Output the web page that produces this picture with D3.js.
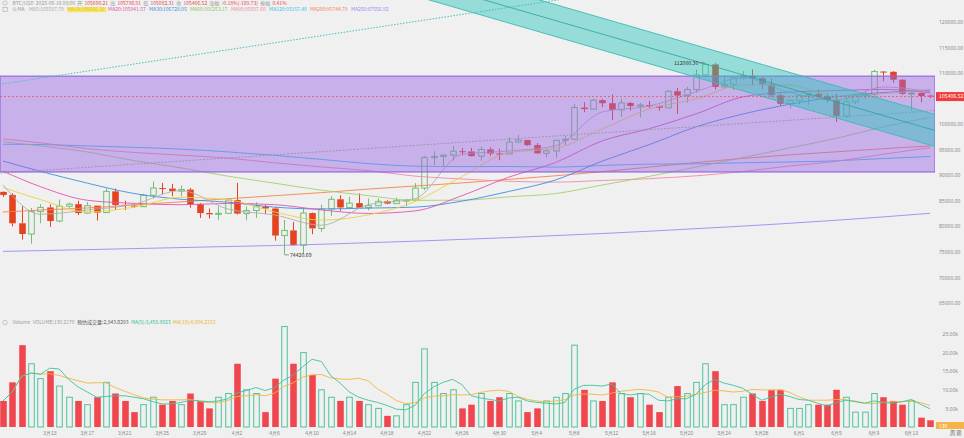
<!DOCTYPE html>
<html><head><meta charset="utf-8">
<script src="https://cdn.jsdelivr.net/npm/d3@7"></script>
<style>
html,body{margin:0;padding:0;background:#f0f0f0;}
svg{display:block;font-family:"Noto Sans CJK SC","Noto Sans",sans-serif;}
</style></head><body>
<svg id="chart" width="964" height="438"></svg>
<script>
// ---------------- DATA ----------------
const dates = ["2025-03-08","2025-03-09","2025-03-10","2025-03-11","2025-03-12","2025-03-13","2025-03-14","2025-03-15","2025-03-16","2025-03-17",
"2025-03-18","2025-03-19","2025-03-20","2025-03-21","2025-03-22","2025-03-23","2025-03-24","2025-03-25","2025-03-26","2025-03-27",
"2025-03-28","2025-03-29","2025-03-30","2025-03-31","2025-04-01","2025-04-02","2025-04-03","2025-04-04","2025-04-05","2025-04-06",
"2025-04-07","2025-04-08","2025-04-09","2025-04-10","2025-04-11","2025-04-12","2025-04-13","2025-04-14","2025-04-15","2025-04-16",
"2025-04-17","2025-04-18","2025-04-19","2025-04-20","2025-04-21","2025-04-22","2025-04-23","2025-04-24","2025-04-25","2025-04-26",
"2025-04-27","2025-04-28","2025-04-29","2025-04-30","2025-05-01","2025-05-02","2025-05-03","2025-05-04","2025-05-05","2025-05-06",
"2025-05-07","2025-05-08","2025-05-09","2025-05-10","2025-05-11","2025-05-12","2025-05-13","2025-05-14","2025-05-15","2025-05-16",
"2025-05-17","2025-05-18","2025-05-19","2025-05-20","2025-05-21","2025-05-22","2025-05-23","2025-05-24","2025-05-25","2025-05-26",
"2025-05-27","2025-05-28","2025-05-29","2025-05-30","2025-05-31","2025-06-01","2025-06-02","2025-06-03","2025-06-04","2025-06-05",
"2025-06-06","2025-06-07","2025-06-08","2025-06-09","2025-06-10","2025-06-11","2025-06-12","2025-06-13","2025-06-14","2025-06-15"];

const opens = [86750,86150,80600,78500,82900,83700,81050,83950,84350,82600,
84050,82700,86850,84200,84050,83850,86100,87500,87400,86900,
87200,84350,82600,82350,82550,85150,82500,83100,83850,83500,
78200,79200,76300,82600,79600,83400,85300,83700,84550,83650,
84050,84900,84450,85100,85150,87500,93450,93700,93950,94700,
94650,93750,95050,94250,94200,96500,96900,95900,94300,94750,
96850,97050,103250,102950,104700,104100,102800,104150,103550,103750,
103500,103200,106450,105600,106800,109650,111700,107300,107800,109050,
109450,109000,107800,105650,104000,104650,105650,105900,105450,104750,
101600,104400,105650,105800,110300,110250,108700,105950,106100,105600.21];

const highs = [86850,86500,83950,83600,84350,84300,85250,84650,85000,84750,
84050,87450,87400,85000,84550,86350,88750,88500,88300,88000,
87500,84550,83500,83900,85500,88500,83900,84700,84200,83800,
81250,80850,83550,82700,84250,85900,86100,85800,86450,85450,
85450,85100,85600,85300,88450,93800,94700,94000,95750,95300,
95350,95600,95450,95200,97400,97900,96950,96300,95200,96900,
97700,103950,104300,104950,104950,105800,104950,104350,104150,104550,
103700,106650,107100,107300,110700,112000.30,111950,109500,109300,110400,
110700,109300,108900,106300,104850,105900,105950,106800,106000,105900,
105400,105950,106450,110600,110400,110400,108800,106200,106250,105796.91];

const lows = [85750,80000,77400,76600,80600,79900,80800,83650,82200,82450,
81150,82650,83200,83200,83650,83800,85500,86300,85900,85900,
83650,81650,81550,81300,82450,82300,81200,81650,82400,77200,
74420.69,76200,74600,78450,78950,82050,83050,83650,83600,83150,
83950,84300,84400,83950,85100,87100,91950,91700,92850,93900,
93650,92850,93800,92950,94150,96300,95750,94150,93500,93400,
95800,96900,102350,102850,103350,100800,101450,102650,101400,103150,
102650,103100,102000,104200,106150,109300,106800,106900,106650,108700,
107550,106850,105350,103650,103100,103900,103700,105150,104200,100400,
101100,103950,104950,105350,108400,108100,105700,102700,104300,105082.31];

const closes = [86150,80600,78500,82900,83700,81050,83950,84350,82600,84050,
82700,86850,84200,84050,83850,86100,87500,87400,86900,87200,
84350,82600,82350,82550,85150,82500,83100,83850,83500,78200,
79200,76300,82600,79600,83400,85300,83700,84550,83650,84050,
84900,84450,85100,85150,87500,93450,93700,93950,94700,94650,
93750,95050,94250,94200,96500,96900,95900,94300,94750,96850,
97050,103250,102950,104700,104100,102800,104150,103550,103750,103500,
103200,106450,105600,106800,109650,111700,107300,107800,109050,109450,
109000,107800,105650,104000,104650,105650,105900,105450,104750,101600,
104400,105650,105800,110300,110250,108700,105950,106100,105500,105406.52];

const volumes = [7000,12000,22000,17000,13000,15000,11000,8000,7000,6000,
8000,12000,9000,7000,4000,6000,8000,6000,7000,6000,
9000,7000,5000,8000,9000,17000,10000,9000,4000,13000,
27000,17000,20000,14000,10000,8000,7000,8000,7000,6000,
5000,3000,3000,6000,12000,21000,12000,9000,10000,5000,
6000,9000,7000,8000,9000,7000,4000,5000,7000,8000,
9000,22000,10000,7000,7000,12000,9000,8000,9000,6000,
4000,8000,11000,9000,12000,17000,15000,6000,6000,8000,
9000,7000,10000,10000,5000,5000,6000,6000,6000,10000,
8000,4000,4000,9000,8000,7000,6000,7000,2500,1800];

// moving-average readings, sampled at these candle indices
const maIdx = [0,4,9,14,19,24,29,34,39,44,49,54,59,64,69,74,79,84,89,94,99];
const ma5   = [88140,82370,83200,84330,87020,83400,82230,80220,84250,85420,94090,94750,95740,102410,103550,106340,109060,106220,104670,107280,106330];
const ma10  = [87600,85250,82790,83770,85680,85210,82820,81230,82240,84840,89760,94420,95250,99080,102980,104950,107700,107640,105450,105980,106810];
const ma20  = [90790,87770,85110,84510,84230,84490,84250,83220,82530,83030,86000,89630,92500,96750,99110,102010,105340,106290,106570,106810,106130];
const ma30  = [92790,90770,88460,86430,85300,84740,83760,83400,83580,83760,84940,86830,89080,92780,95990,99480,101980,103890,105380,106190,106650];
const ma60  = [96600,95750,94580,92860,91450,89830,88450,87080,86020,85090,85120,85780,86420,88090,89780,91620,93460,95360,97230,99480,101320];
const ma90  = [97120,96350,95200,94470,93940,93350,92440,91630,90910,89830,89280,88830,88660,88980,89340,89890,90740,91820,92740,94120,95410];
const ma120 = [96080,96020,95740,95470,95120,94580,93900,93110,92290,91790,91690,91720,91600,91920,92180,92240,92450,92600,92840,93280,93670];
const ma200 = [82800,83200,83600,84200,84800,85400,86000,86600,87300,87900,88500,89200,89900,90700,91600,92500,93300,94000,94600,95200,95740];
const ma250 = [75100,75250,75450,75650,75850,76050,76250,76500,76800,77100,77450,77800,78200,78600,79050,79550,80050,80600,81200,81850,82560];

const priceTicks = [65000,70000,75000,80000,85000,90000,95000,100000,105000,110000,115000,120000];
const volTicks = [5000,10000,15000,20000,25000];
const dateTickIdx = [5,9,13,17,21,25,29,33,37,41,45,49,53,57,61,65,69,73,77,81,85,89,93,97];

const lastPrice = 105406.52;
const highMark = {i:75, p:112000.30};
const lowMark = {i:30, p:74420.69};
// drawings (index, price)
const boxTop = 109400, boxBottom = 90650;
const chanUpper = [[40,133500],[99.52,101890]];
const chanWidth = 6260;
const tealDotted = [[0,107900],[59,124250]];
const greenDotted = [[0,90450],[99,102600]];

const headerRow1 = [["BTC/USD","#9a9a9a"],["2025-06-16 08:00","#9a9a9a"],["开","#9a9a9a"],["105600.21","#e8484a"],["高","#9a9a9a"],["105796.91","#e8484a"],["低","#9a9a9a"],["105082.31","#e8484a"],["收","#9a9a9a"],["105406.52","#e8484a"],["涨幅","#9a9a9a"],["-0.18%(-189.73)","#e8484a"],["振幅","#9a9a9a"],["0.41%","#e8484a"]];
const maLegend = [["MA5:105597.79","#aaaaaa"],["MA10:105656.31","#e3c400"],["MA20:105941.57","#e055b0"],["MA30:106728.05","#3d8fe0"],["MA60:101253.17","#8fc45a"],["MA90:95507.60","#f08aa8"],["MA120:93157.40","#38c0e8"],["MA200:95744.79","#f4844c"],["MA250:87556.92","#9a8cf0"]];
const volLegend = [["Volume","#9a9a9a"],["VOLUME:130.2170","#9a9a9a"],["预估成交量:2,943.0293","#555555"],["MA(5):3,458.0823","#2fc39a"],["MA(10):4,004.2153","#f0b02a"]];

// ---------------- CHART ----------------
const svg = d3.select('#chart');
const W = 964, PR = 935;
const RED = "#e5421f", GREEN = "#72bf74", VRED = "#f0474f", VGREEN = "#4cc59b";
const defs = svg.append('defs');
defs.append('clipPath').attr('id','clipMain').append('rect').attr('x',0).attr('y',0).attr('width',PR).attr('height',314);
defs.append('clipPath').attr('id','clipVol').append('rect').attr('x',0).attr('y',318).attr('width',PR).attr('height',110);

const n = dates.length;
const x = d3.scaleBand().domain(dates).range([-1.68, 934.8]).paddingInner(0.3).paddingOuter(0.15);
const bw = x.bandwidth();
const xc = i => x(dates[i]) + bw/2;
const xi = d3.scaleLinear().domain([0, n-1]).range([xc(0), xc(n-1)]);
const y = d3.scaleLinear().domain([65000,120000]).range([303,22]);
const yv = d3.scaleLinear().domain([0,25000]).range([427,334]);

const gMain = svg.append('g').attr('clip-path','url(#clipMain)');

// candles
const gC = gMain.append('g');
dates.forEach((d,i)=>{
  const o=opens[i], c=closes[i], h=highs[i], l=lows[i];
  const up = c >= o;
  const col = up ? GREEN : RED;
  const cx = Math.round(xc(i)) + 0.5;
  const top = y(Math.max(o,c)), bot = y(Math.min(o,c));
  gC.append('line').attr('x1',cx).attr('x2',cx).attr('y1',y(h)).attr('y2',top).attr('stroke',col).attr('stroke-width',1);
  gC.append('line').attr('x1',cx).attr('x2',cx).attr('y1',bot).attr('y2',y(l)).attr('stroke',col).attr('stroke-width',1);
  const hgt = Math.max(1, bot-top);
  if (up) {
    gC.append('rect').attr('x',cx-bw/2+0.5).attr('y',top).attr('width',bw-1).attr('height',hgt)
      .attr('fill','none').attr('stroke',col).attr('stroke-width',1);
  } else {
    gC.append('rect').attr('x',cx-bw/2).attr('y',top).attr('width',bw).attr('height',hgt).attr('fill',col);
  }
});

// moving averages
const maSets = [[ma250,"#9a8cf0"],[ma200,"#f4844c"],[ma120,"#38c0e8"],[ma90,"#f08aa8"],[ma60,"#a5cf6e"],[ma30,"#3d8fe0"],[ma20,"#e055b0"],[ma10,"#ecd33a"],[ma5,"#b0b0b0"]];
const maLine = d3.line().x(d=>xi(d[0])).y(d=>y(d[1])).curve(d3.curveMonotoneX);
maSets.forEach(([arr,col])=>{
  gMain.append('path').attr('d', maLine(maIdx.map((k,j)=>[k,arr[j]])))
    .attr('fill','none').attr('stroke',col).attr('stroke-width',0.9);
});

// green-grey dotted trend line
const ext = (pts, i0, i1) => { const [a,b]=pts; const s=(b[1]-a[1])/(b[0]-a[0]); return [[i0, a[1]+s*(i0-a[0])],[i1, a[1]+s*(i1-a[0])]]; };
const segLine = d3.line().x(d=>xi(d[0])).y(d=>y(d[1]));
gMain.append('path').attr('d', segLine(ext(greenDotted,-1,99.6))).attr('stroke','#a3bf86').attr('stroke-width',1).attr('stroke-dasharray','2,1.5').attr('fill','none');

// purple box
gMain.append('rect').attr('x',0).attr('y',y(boxTop)).attr('width',PR).attr('height',y(boxBottom)-y(boxTop))
  .attr('fill','rgba(150,100,228,0.45)').attr('stroke','#9466e0').attr('stroke-width',1.2);

// teal channel
const iEnd = 99.52;
const up0 = ext(chanUpper, 30, iEnd);
const lo0 = up0.map(p=>[p[0], p[1]-chanWidth]);
const mid0 = up0.map(p=>[p[0], p[1]-chanWidth/2]);
const poly = [...up0, ...lo0.slice().reverse()];
gMain.append('path').attr('d', d3.line().x(d=>xi(d[0])).y(d=>y(d[1]))(poly)+'Z')
  .attr('fill','rgba(40,196,188,0.45)').attr('stroke','none');
[up0, lo0].forEach(s=>gMain.append('path').attr('d',segLine(s)).attr('stroke','#3cbab2').attr('stroke-width',0.9).attr('fill','none'));
gMain.append('path').attr('d',segLine(mid0)).attr('stroke','#2aa39b').attr('stroke-width',0.8).attr('fill','none');

// teal dotted line
gMain.append('path').attr('d', segLine(ext(tealDotted,-1,70))).attr('stroke','#3ec3b9').attr('stroke-width',1).attr('stroke-dasharray','1.5,1.5').attr('fill','none');

// current price line
gMain.append('line').attr('x1',0).attr('x2',PR).attr('y1',y(lastPrice)).attr('y2',y(lastPrice))
  .attr('stroke','#ef5350').attr('stroke-width',0.8).attr('stroke-dasharray','2,2');

// high / low marks
const hx = xc(highMark.i), hy = y(highMark.p);
svg.append('line').attr('x1',hx-6).attr('x2',hx-1).attr('y1',hy).attr('y2',hy).attr('stroke','#555').attr('stroke-width',0.6);
svg.append('text').attr('x',hx-7).attr('y',hy+1.8).attr('text-anchor','end').attr('font-size',5.2).attr('fill','#333').text(d3.format('.2f')(highMark.p));
const lx = xc(lowMark.i), ly = y(lowMark.p);
svg.append('line').attr('x1',lx+1).attr('x2',lx+5).attr('y1',ly).attr('y2',ly).attr('stroke','#555').attr('stroke-width',0.6);
svg.append('text').attr('x',lx+6).attr('y',ly+1.8).attr('font-size',5.2).attr('fill','#333').text(d3.format('.2f')(lowMark.p));

// price axis
const yAxis = d3.axisRight(y).tickValues(priceTicks.filter(t=>Math.abs(y(t)-y(lastPrice))>7)).tickSize(0).tickPadding(3).tickFormat(d3.format('.2f'));
const ga = svg.append('g').attr('transform',`translate(${PR+1},0)`).call(yAxis);
ga.select('.domain').remove();
ga.selectAll('text').attr('font-size',5).attr('fill','#8a8a8a').attr('font-family','"Noto Sans",sans-serif');

// last price label
svg.append('rect').attr('x',PR+1).attr('y',y(lastPrice)-4.5).attr('width',W-PR-1).attr('height',9).attr('fill','#f23d3d');
svg.append('text').attr('x',PR+4).attr('y',y(lastPrice)+1.8).attr('font-size',5.2).attr('fill','#fff').text(d3.format('.2f')(lastPrice));

// ---------------- VOLUME ----------------
const gVol = svg.append('g').attr('clip-path','url(#clipVol)');
dates.forEach((d,i)=>{
  const up = closes[i] >= opens[i];
  const cx = Math.round(xc(i)) + 0.5;
  const t = yv(volumes[i]), b = yv(0);
  if (up) gVol.append('rect').attr('x',cx-bw/2+0.5).attr('y',t).attr('width',bw-1).attr('height',b-t).attr('fill','none').attr('stroke',VGREEN).attr('stroke-width',1);
  else gVol.append('rect').attr('x',cx-bw/2).attr('y',t).attr('width',bw).attr('height',b-t).attr('fill',VRED);
});
const vma = k => volumes.map((v,i)=>[i, d3.mean(volumes.slice(Math.max(0,i-k+1), i+1))]);
const vLine = d3.line().x(d=>xi(d[0])).y(d=>yv(d[1]));
gVol.append('path').attr('d',vLine(vma(10))).attr('fill','none').attr('stroke','#f3b63c').attr('stroke-width',0.9);
gVol.append('path').attr('d',vLine(vma(5))).attr('fill','none').attr('stroke','#39c4a0').attr('stroke-width',0.9);

const vAxis = d3.axisLeft(yv).tickValues(volTicks).tickSize(0).tickPadding(0).tickFormat(d=>(d/1000).toFixed(2)+'k');
const gva = svg.append('g').attr('transform','translate(958,0)').call(vAxis);
gva.select('.domain').remove();
gva.selectAll('text').attr('font-size',5).attr('fill','#8a8a8a').attr('font-family','"Noto Sans",sans-serif');
svg.append('rect').attr('x',PR+1).attr('y',422).attr('width',W-PR-1).attr('height',7).attr('fill','#f5b445');
svg.append('text').attr('x',PR+4).attr('y',427.5).attr('font-size',5).attr('fill','#fff').text('130');

// x axis
const xAxis = d3.axisBottom(x).tickValues(dateTickIdx.map(i=>dates[i])).tickSize(0).tickPadding(3)
  .tickFormat(d=>{const p=d.split('-'); return (+p[1])+'月'+(+p[2]);});
const gx = svg.append('g').attr('transform','translate(0,428)').call(xAxis);
gx.select('.domain').remove();
gx.selectAll('text').attr('font-size',5).attr('fill','#8a8a8a');
svg.append('text').attr('x',950).attr('y',434.5).attr('font-size',5.2).attr('fill','#666').text('周 期');

// ---------------- HEADERS ----------------
function flow(x0, yb, parts, size, gap){
  let cx = x0;
  parts.forEach(([t,c])=>{
    const el = svg.append('text').attr('x',cx).attr('y',yb).attr('font-size',size).attr('fill',c).text(t);
    cx += el.node().getComputedTextLength() + gap;
  });
}
function icon(cx, cy){ svg.append('circle').attr('cx',cx).attr('cy',cy).attr('r',2.2).attr('fill','none').attr('stroke','#aaa').attr('stroke-width',0.6); }
icon(5,3); flow(12.5, 4.8, headerRow1, 5, 2.2);
svg.append('rect').attr('x',3).attr('y',7.3).attr('width',4.2).attr('height',4.2).attr('fill','none').attr('stroke','#aaa').attr('stroke-width',0.6);
svg.append('circle').attr('cx',14.5).attr('cy',9.2).attr('r',1.5).attr('fill','none').attr('stroke','#999').attr('stroke-width',0.5);
svg.append('line').attr('x1',15.6).attr('y1',10.3).attr('x2',16.6).attr('y2',11.3).attr('stroke','#999').attr('stroke-width',0.5);
svg.append('text').attr('x',17.5).attr('y',11.3).attr('font-size',5).attr('fill','#999').text('MA');
svg.append('rect').attr('x',67.5).attr('y',7.2).attr('width',39).attr('height',5).attr('fill','#f7e56e');
flow(29, 11.3, maLegend, 5, 3.3);
icon(5,322.5); flow(12.5, 324.3, volLegend, 5, 2.5);
</script>
</body></html>
